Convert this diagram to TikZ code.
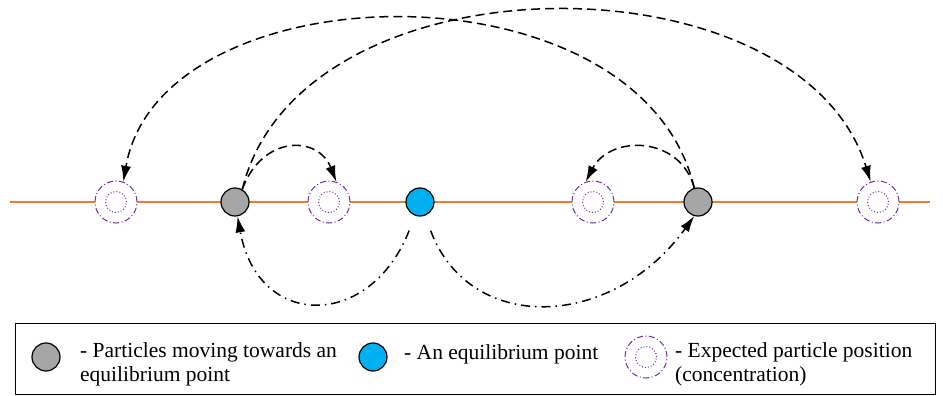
\documentclass[tikz,border=0pt]{standalone}
\usepackage{fontspec}
\setmainfont{Liberation Serif}
\usetikzlibrary{arrows.meta,positioning,shapes.geometric}

\definecolor{axisorange}{HTML}{ED7D31}
\definecolor{eqblue}{HTML}{00B0F0}
\definecolor{partgrey}{HTML}{A6A6A6}
\definecolor{exviolet}{HTML}{7030A0}

\begin{document}
\begin{tikzpicture}[
  x=1pt, y=-1pt,
  font=\fontsize{21.5}{24}\selectfont,
  axis/.style={draw=axisorange, line width=2.5pt},
  particle/.style={circle, draw, line width=1.2pt, fill=partgrey, minimum size=28pt, inner sep=0pt},
  equil/.style={particle, fill=eqblue},
  expect/.style={circle, draw=exviolet, fill=white, line width=1pt, dash pattern=on 6pt off 2.5pt on 1pt off 2.5pt, minimum size=42pt, inner sep=0pt},
  expin/.style={circle, draw=exviolet, line width=1pt, dotted, minimum size=21pt, inner sep=0pt},
  jump/.style={-{Latex[length=16pt,width=10pt]}, line width=1.5pt, dash pattern=on 9pt off 5pt},
  pull/.style={-{Latex[length=16pt,width=10pt]}, line width=1.5pt, dash pattern=on 9pt off 5pt on 1.5pt off 5pt},
  legtext/.style={anchor=west, align=left, inner sep=0pt}
]
\useasboundingbox (0,0) rectangle (943,396);

% axis
\coordinate (l) at (10,202);
\coordinate (r) at (930,202);
\draw[axis] (l) -- (r);

% expected positions
\foreach \x/\n in {116/e1, 329/e2, 593/e3, 878/e4} {
  \node[expect] (\n) at (\x,202) {};
  \node[expin] at (\n) {};
}

% particles and equilibrium point
\node[particle] (pl) at (235,202) {};
\node[particle] (pr) at (698,202) {};
\node[equil] (eq) at (420,202) {};

% jumps
\draw[jump] (pl.60) .. controls (300,-48) and (800,-48) .. (e4.110);
\draw[jump] (pr.105) .. controls (640,-42) and (160,-32) .. (e1.70);
\draw[jump] (pl.60) .. controls (262,135) and (318,135) .. (e2.70);
\draw[jump] (pr.105) .. controls (680,135) and (610,135) .. (e3.110);

% pulls towards the equilibrium point
\draw[pull, shorten <=16pt] (eq.-110) .. controls (370,330) and (258,330) .. (pl.-80);
\draw[pull, shorten <=16pt] (eq.-70) .. controls (470,335) and (612,330) .. (pr.-105);

% legend
\node[draw, line width=0.8pt, minimum width=920pt, minimum height=71pt, inner sep=0pt] (leg) at (475,359) {};
\node[particle] (lp) at (46,357) {};
\node[legtext] (lpt) at (80,364) {- Particles moving towards an\\equilibrium point};
\node[equil] (le) at (373,357) {};
\node[legtext] (let) at (404,354) {- An equilibrium point};
\node[expect] (lx) at (646,357) {};
\node[expin] at (lx) {};
\node[legtext] (lxt) at (675,364) {- Expected particle position\\(concentration)};
\end{tikzpicture}
\end{document}
